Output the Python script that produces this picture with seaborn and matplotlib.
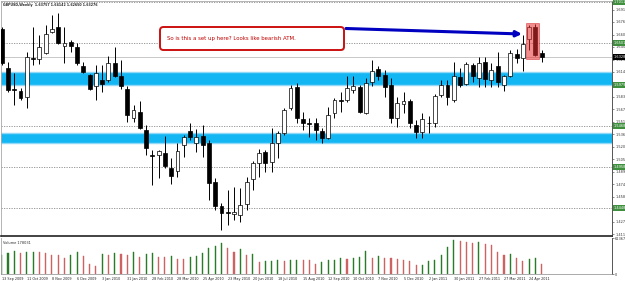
import numpy as np
import pandas as pd
import matplotlib
matplotlib.use("Agg")
import matplotlib.pyplot as plt
import seaborn as sns
from matplotlib.patches import Rectangle, FancyBboxPatch

# ---------------- data ----------------
start_date = "2009-09-13"
opens = [1.6675,1.6190,1.5929,1.5904,1.5829,1.6315,1.6302,1.6377,1.6638,1.6700,
         1.6464,1.6514,1.6451,1.6215,1.6103,1.5966,1.6041,1.6041,1.6252,1.6091,
         1.5929,1.5568,1.5643,1.5419,1.5108,1.5108,1.5133,1.4946,1.4909,1.5232,
         1.5406,1.5257,1.5344,1.5257,1.4772,1.4473,1.4399,1.4374,1.4361,1.4498,
         1.4809,1.5008,1.5145,1.5021,1.5257,1.5382,1.5693,1.5954,1.5556,1.5506,
         1.5506,1.5406,1.5319,1.5630,1.5792,1.5792,1.5916,1.5954,1.5630,1.6016,
         1.6178,1.6103,1.5979,1.5568,1.5742,1.5780,1.5481,1.5394,1.5506,1.5506,
         1.5854,1.5979,1.5792,1.6078,1.5991,1.6227,1.6066,1.6265,1.6041,1.6215,
         1.5979,1.6091,1.6364,1.6315,1.6551,1.6700,1.6376]
highs = [1.6700,1.6265,1.6128,1.5941,1.6389,1.6700,1.6601,1.6725,1.6849,1.6874,
         1.6700,1.6538,1.6501,1.6265,1.6115,1.6227,1.6227,1.6339,1.6451,1.6290,
         1.5966,1.5730,1.5780,1.5481,1.5170,1.5170,1.5344,1.5071,1.5257,1.5357,
         1.5506,1.5431,1.5481,1.5294,1.4822,1.4511,1.4672,1.4710,1.4697,1.4834,
         1.5033,1.5182,1.5170,1.5444,1.5406,1.5693,1.5979,1.6004,1.5643,1.5568,
         1.5568,1.5444,1.5705,1.5817,1.5892,1.6091,1.6091,1.5979,1.6066,1.6290,
         1.6215,1.6165,1.6066,1.5829,1.5892,1.5804,1.5543,1.5630,1.5593,1.5867,
         1.6041,1.6041,1.6265,1.6190,1.6265,1.6252,1.6327,1.6327,1.6252,1.6389,
         1.6103,1.6414,1.6426,1.6601,1.6725,1.6737,1.6414]
lows = [1.6227,1.5892,1.5730,1.5792,1.5693,1.6227,1.6240,1.6364,1.6626,1.6489,
        1.6252,1.6389,1.6227,1.6128,1.5916,1.5792,1.5892,1.6016,1.6078,1.5929,
        1.5518,1.5518,1.5431,1.5108,1.4735,1.4822,1.4946,1.4747,1.4834,1.5083,
        1.5294,1.5145,1.5083,1.4548,1.4424,1.4175,1.4237,1.4299,1.4274,1.4424,
        1.4672,1.4834,1.4896,1.4896,1.5071,1.5357,1.5668,1.5506,1.5419,1.5332,
        1.5294,1.5257,1.5307,1.5568,1.5643,1.5767,1.5879,1.5630,1.5618,1.5966,
        1.6041,1.5829,1.5506,1.5456,1.5630,1.5444,1.5319,1.5319,1.5382,1.5456,
        1.5829,1.5730,1.5767,1.5954,1.5979,1.6016,1.5954,1.5954,1.5954,1.5954,
        1.5904,1.6078,1.6252,1.6153,1.6414,1.6339,1.6265]
closes = [1.6252,1.5916,1.5916,1.5817,1.6327,1.6302,1.6451,1.6613,1.6675,1.6501,
          1.6501,1.6464,1.6252,1.6140,1.5929,1.6128,1.5991,1.6252,1.6091,1.5966,
          1.5605,1.5668,1.5444,1.5195,1.5095,1.5158,1.4971,1.4847,1.5158,1.5332,
          1.5332,1.5332,1.5232,1.4759,1.4473,1.4386,1.4386,1.4399,1.4486,1.4772,
          1.5008,1.5133,1.5008,1.5257,1.5382,1.5668,1.5941,1.5568,1.5506,1.5493,
          1.5419,1.5319,1.5605,1.5792,1.5780,1.5941,1.5966,1.5643,1.6004,1.6153,
          1.6091,1.5954,1.5568,1.5755,1.5780,1.5506,1.5394,1.5556,1.5500,1.5842,
          1.5979,1.5829,1.6091,1.5979,1.6240,1.6091,1.6252,1.6053,1.6165,1.6016,
          1.6091,1.6377,1.6315,1.6489,1.6700,1.6352,1.6328]
volumes = [324,352,392,352,370,381,370,352,324,318,
           267,324,370,307,165,142,335,330,358,335,
           330,370,284,335,352,295,284,307,250,248,
           284,307,352,438,483,523,438,370,421,324,
           335,205,215,225,232,225,235,245,240,238,
           170,199,239,242,278,256,267,290,392,278,
           307,267,265,263,239,222,153,160,222,239,
           324,460,580,563,540,535,540,506,500,380,
           324,341,267,222,256,267,170]
volumes = [v * 1000 for v in volumes]

zones = [(1.5979, 1.6140), (1.5257, 1.5382)]
dotted_levels = [1.7011, 1.6501, 1.5468, 1.4958, 1.4448]
tag_levels = [1.7011, 1.6501, 1.5979, 1.5468, 1.4958, 1.4448]
current_price = 1.6328
price_ticks = [1.6918, 1.6763, 1.6607, 1.6452, 1.6296, 1.6141, 1.5985, 1.5830,
               1.5674, 1.5519, 1.5363, 1.5208, 1.5052, 1.4897, 1.4741, 1.4586,
               1.4430, 1.4275, 1.4119]
vol_max = 613676
title = "GBPUSD,Weekly  1.63757 1.64142 1.62650 1.63276"
vol_label = "Volume 178031"
note = "So is this a set up here? Looks like bearish ATM."
box_low, box_high = 1.6302, 1.6750

# ---------------- figure ----------------
sns.set_style("white")
plt.rcParams["font.family"] = ["DejaVu Sans"]

W, H = 625, 281
fig = plt.figure(figsize=(W / 100, H / 100), dpi=100)
fig.patch.set_facecolor("white")

def px_rect(x0, y0, x1, y1):
    return [x0 / W, 1 - y1 / H, (x1 - x0) / W, (y1 - y0) / H]

ax = fig.add_axes(px_rect(1, 1, 612, 236))
axv = fig.add_axes(px_rect(1, 238, 612, 274))

n = len(opens)
idx = np.arange(n)
o = np.array(opens); h = np.array(highs); l = np.array(lows); c = np.array(closes)
up = c >= o

xlim = (-0.11, 97.2)

# zones
for lo, hi in zones:
    ax.axhspan(lo, hi, color="#12b6f3", lw=0, zorder=1)
    ax.axhline(lo, color="#8fd8f7", lw=1.0, zorder=1.1)
    ax.axhline(hi, color="#8fd8f7", lw=1.0, zorder=1.1)

for lv in dotted_levels:
    ax.axhline(lv, color="#8a8a8a", lw=0.6, ls=(0, (1.5, 1.5)), zorder=1.2)
ax.axhline(current_price, color="#c8c8c8", lw=0.7, zorder=1.2)

# candles
ax.vlines(idx, l, h, color="black", lw=0.7, zorder=2)
body = np.maximum(np.abs(c - o), 0.0005)
ax.bar(idx, body, bottom=np.minimum(o, c), width=0.62,
       color=np.where(up, "white", "black"), edgecolor="black",
       linewidth=0.5, zorder=3)

# red highlight rectangle over last candles
ax.add_patch(Rectangle((83.5, box_low), 2.07, box_high - box_low,
                       facecolor="#e83030", alpha=0.55, edgecolor="#d02020",
                       lw=0.6, zorder=5))

ax.set_xlim(*xlim)
ax.set_ylim(1.4100, 1.7024)
ax.set_xticks([])
ax.yaxis.tick_right()
ax.set_yticks(price_ticks)
ax.set_yticklabels([f"{t:.4f}" for t in price_ticks])
ax.tick_params(axis="y", labelsize=2.5, length=1.5, width=0.4, pad=0.8,
               colors="#333333")
for s in ["left", "top"]:
    ax.spines[s].set_color("#a8a8a8"); ax.spines[s].set_linewidth(0.6)
ax.spines["right"].set_color("#555555"); ax.spines["right"].set_linewidth(0.7)
ax.spines["bottom"].set_color("#222222"); ax.spines["bottom"].set_linewidth(1.2)

# price tags on right axis
ytr = ax.get_yaxis_transform()
for lv in tag_levels:
    ax.text(1.002, lv, f"{lv:.4f}", transform=ytr, fontsize=2.5, color="white",
            va="center", ha="left", clip_on=False, zorder=6,
            bbox=dict(facecolor="#3f8f3f", edgecolor="none", pad=0.5))
ax.text(1.002, current_price, f"{current_price:.4f}", transform=ytr,
        fontsize=2.5, color="white", va="center", ha="left", clip_on=False,
        zorder=6, bbox=dict(facecolor="black", edgecolor="none", pad=0.5))

ax.text(0.003, 0.99, title, transform=ax.transAxes, fontsize=2.3,
        fontweight="bold", va="top", ha="left", zorder=6)

# annotation box (pixel based placement)
sh = FancyBboxPatch((1.61, 2.30), 1.84, 0.23,
                    boxstyle="round,pad=0,rounding_size=0.035",
                    transform=fig.dpi_scale_trans, fc="#d0d0d0", ec="none")
fig.add_artist(sh)
bx = FancyBboxPatch((1.60, 2.31), 1.84, 0.23,
                    boxstyle="round,pad=0,rounding_size=0.035",
                    transform=fig.dpi_scale_trans, fc="white", ec="#cc1111", lw=1.4)
fig.add_artist(bx)
fig.text(1.67, 2.425, note, transform=fig.dpi_scale_trans, fontsize=3.9,
         color="#c00000", va="center", ha="left")

# blue arrow
ax.annotate("", xy=((522 - 1) / 611, 1 - (34 - 1) / 235),
            xytext=((346 - 1) / 611, 1 - (28.5 - 1) / 235),
            xycoords="axes fraction", textcoords="axes fraction",
            arrowprops=dict(arrowstyle="-|>", color="#0000c0", lw=2.2,
                            mutation_scale=8, shrinkA=0, shrinkB=0), zorder=7)

# ---------------- volume ----------------
vol = np.array(volumes)
direction = ["up"] + ["up" if vol[i] > vol[i - 1] else "down" for i in range(1, n)]
df = pd.DataFrame({"i": idx, "v": vol, "d": direction})
pal = {"up": "#1a8a1a", "down": "#e05050"}
sns.barplot(data=df, x="i", y="v", hue="d", palette=pal,
            native_scale=True, width=0.17, dodge=False, errorbar=None,
            legend=False, ax=axv)
for p in axv.patches:
    p.set_edgecolor(p.get_facecolor())
    p.set_linewidth(0.3)
axv.set_xlim(*xlim)
axv.set_ylim(0, vol_max)
axv.set_xlabel(""); axv.set_ylabel("")
axv.yaxis.tick_right()
axv.set_yticks([0, vol_max])
axv.set_yticklabels(["0", str(vol_max)])
axv.tick_params(axis="y", labelsize=2.5, length=1.5, width=0.4, pad=0.8,
                colors="#333333")

dates = pd.date_range(start_date, periods=n, freq="7D")
tick_pos = list(range(0, n, 4))
axv.set_xticks(tick_pos)
axv.set_xticklabels([f"{dates[i].day} {dates[i].strftime('%b %Y')}" for i in tick_pos])
axv.tick_params(axis="x", labelsize=2.4, length=1.5, width=0.4, pad=0.6,
                colors="#222222")
for lbl in axv.get_xticklabels():
    lbl.set_ha("left")
axv.text(0.003, 0.93, vol_label, transform=axv.transAxes, fontsize=2.5,
         va="top", ha="left")
axv.spines["top"].set_visible(False)
axv.spines["left"].set_color("#a8a8a8"); axv.spines["left"].set_linewidth(0.6)
axv.spines["right"].set_color("#555555"); axv.spines["right"].set_linewidth(0.7)
axv.spines["bottom"].set_color("#888888"); axv.spines["bottom"].set_linewidth(0.5)

fig.savefig("out.png", dpi=100, facecolor="white")
